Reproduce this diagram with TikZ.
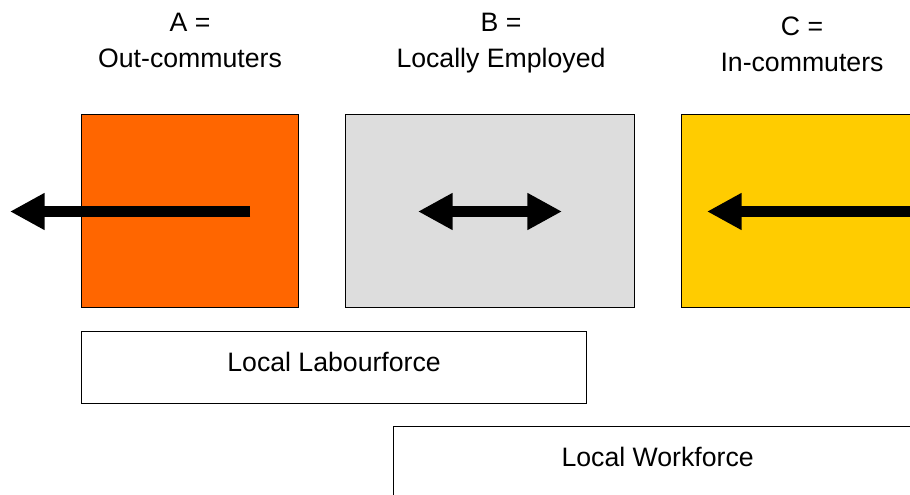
\documentclass[tikz,border=0pt]{standalone}
\usepackage{fontspec}
\setmainfont{Liberation Sans}
\usetikzlibrary{arrows.meta}

\definecolor{outcol}{HTML}{FF6600}
\definecolor{localcol}{HTML}{DDDDDD}
\definecolor{incol}{HTML}{FFCC00}

\begin{document}
\begin{tikzpicture}[x=0.75pt,y=-0.75pt,
  txt/.style={font=\fontsize{20}{27}\selectfont},
  group/.style={draw, line width=0.9pt, anchor=north west, inner sep=0pt, minimum height=144.75pt},
  force/.style={txt, draw, line width=0.9pt, fill=white, anchor=north west, inner sep=0pt, minimum height=54pt, text depth=8pt},
  head/.style={txt, anchor=north, inner sep=0pt, align=center},
  flow/.style={line width=8.25pt},
  fat/.tip={Triangle[length=26pt,width=26pt]}]

\useasboundingbox (0,0) rectangle (910,495);
\clip (0,0) rectangle (910,495);

\node[group, fill=outcol,   minimum width=162.75pt] (outbox)   at (81,114) {};
\node[group, fill=localcol, minimum width=216.75pt] (localbox) at (345,114) {};
\node[group, fill=incol,    minimum width=209.25pt] (inbox)    at (681,114) {};

\node[head] (outlab)   at (190,13) {A =\\Out-commuters};
\node[head] (locallab) at (501,13) {B =\\Locally Employed};
\node[head] (inlab)    at (802,17) {C =\\In-commuters};

\node[force, minimum width=378.75pt] (labour) at (81,331) {Local Labourforce};
\node[force, minimum width=396pt]    (work)   at (393,426) {Local Workforce};

\coordinate (outtail) at (250,211.5);
\coordinate (outtip)  at (10,211.5);
\coordinate (locl)    at (418,211.5);
\coordinate (locr)    at (562,211.5);
\coordinate (intail)  at (960,211.5);
\coordinate (intip)   at (707,211.5);

\draw[flow, -fat] (outtail) -- (outtip);
\draw[flow, fat-fat] (locl) -- (locr);
\draw[flow, -fat] (intail) -- (intip);

\end{tikzpicture}
\end{document}
